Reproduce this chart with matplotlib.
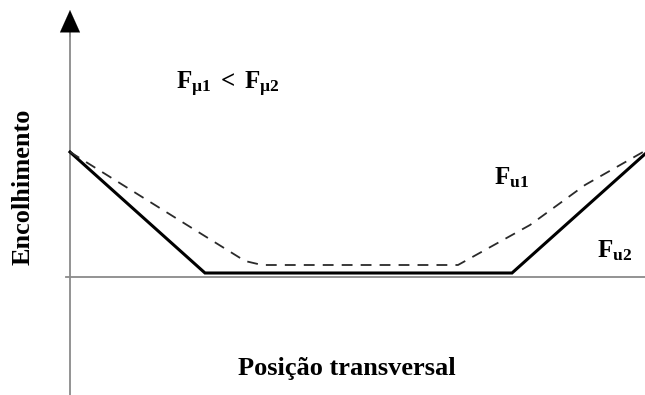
import matplotlib
matplotlib.use("Agg")
import matplotlib.pyplot as plt

plt.rcParams['font.family'] = ['Liberation Serif', 'DejaVu Serif']
plt.rcParams['mathtext.fontset'] = 'custom'
plt.rcParams['mathtext.rm'] = 'Liberation Serif'
plt.rcParams['mathtext.bf'] = 'Liberation Serif:bold'
plt.rcParams['mathtext.it'] = 'Liberation Serif:italic'

# profile for F_u2 (solid)
x_fu2 = [0, 135, 442, 575]
y_fu2 = [125, 4, 4, 123]
# profile for F_u1 (dashed)
x_fu1 = [0, 117, 175, 192, 388, 460, 515, 573]
y_fu1 = [125, 52, 16, 12, 12, 52, 92, 125]

fig = plt.figure(figsize=(6.45, 3.95), dpi=100)
ax = fig.add_axes([0, 0, 1, 1])
ax.set_xlim(-70, 575)
ax.set_ylim(-118, 277)
ax.axis('off')

# axes
ax.plot([-4, 575], [0, 0], color='#8a8a8a', lw=1.3)
ax.plot([0, 0], [-118, 250], color='#8a8a8a', lw=1.3)
ax.annotate('', xy=(0, 267), xytext=(0, 240),
            arrowprops=dict(arrowstyle='-|>,head_width=0.36,head_length=0.8',
                            mutation_scale=20, shrinkA=0, shrinkB=0,
                            color='black', lw=0.1))

ax.plot(x_fu2, y_fu2, color='black', lw=2.2, solid_joinstyle='miter')
ax.plot(x_fu1, y_fu1, color='#2a2a2a', lw=1.3, dashes=(6, 4.5))

ax.text(106, 193, r'$\mathbf{F}_{\mathbf{µ1}}\mathbf{\ <\ F}_{\mathbf{µ2}}$',
        fontsize=18, ha='left', va='center')
ax.text(424, 99, r'$\mathbf{F}_{\mathbf{u1}}$', fontsize=18, ha='left', va='center')
ax.text(527, 26, r'$\mathbf{F}_{\mathbf{u2}}$', fontsize=18, ha='left', va='center')

ax.text(-47, 90, 'Encolhimento', rotation=90, fontsize=19, fontweight='bold',
        ha='center', va='center')
ax.text(277, -92, 'Posição transversal', fontsize=19, fontweight='bold',
        ha='center', va='center')

fig.savefig('out.png', dpi=100)
